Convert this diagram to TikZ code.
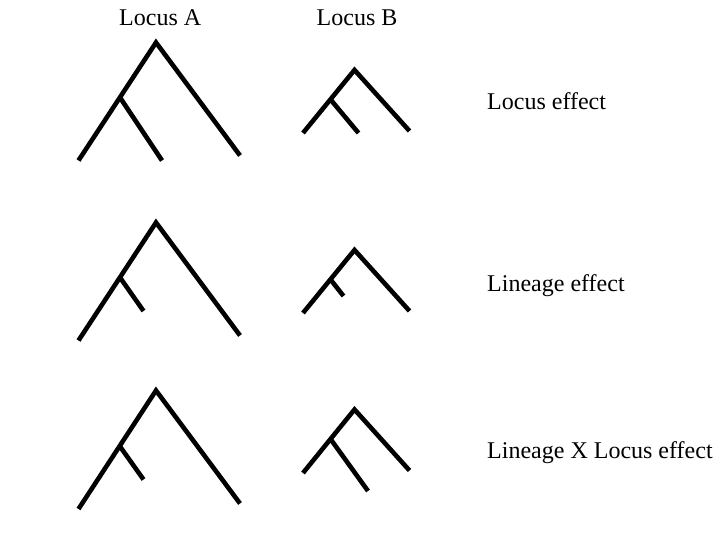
\documentclass[tikz,border=0pt]{standalone}
\usepackage{fontspec}
\setmainfont{Liberation Serif}
\begin{document}
\begin{tikzpicture}[x=1pt,y=-1pt,
  branch/.style={line width=4.6pt, black},
  lbl/.style={inner sep=0pt, anchor=base west, font=\fontsize{24}{28}\selectfont}]
\useasboundingbox (0,0) rectangle (720,540);
% labels
\node[lbl] (la) at (119,26) {Locus A};
\node[lbl] (lb) at (316.5,26) {Locus B};
\node[lbl] (e1) at (487,110) {Locus effect};
\node[lbl] (e2) at (487,291) {Lineage effect};
\node[lbl] (e3) at (487,458) {Lineage X Locus effect};
% row 1, locus A
\coordinate (a1r) at (156,42.5);
\coordinate (a1i) at (120,97.5);
\coordinate (a1l) at (78.5,160.5);
\coordinate (a1m) at (162,160.5);
\coordinate (a1x) at (240,155.5);
\draw[branch] (a1l) -- (a1r) -- (a1x);
\draw[branch] (a1i) -- (a1m);
% row 1, locus B
\coordinate (b1r) at (354.5,70);
\coordinate (b1i) at (330.5,99.5);
\coordinate (b1l) at (303,133);
\coordinate (b1m) at (358.5,133);
\coordinate (b1x) at (409.5,131);
\draw[branch] (b1l) -- (b1r) -- (b1x);
\draw[branch] (b1i) -- (b1m);
% row 2, locus A
\coordinate (a2r) at (156,222.5);
\coordinate (a2i) at (120,277.5);
\coordinate (a2l) at (78.5,340.5);
\coordinate (a2m) at (143.5,311);
\coordinate (a2x) at (240,335.5);
\draw[branch] (a2l) -- (a2r) -- (a2x);
\draw[branch] (a2i) -- (a2m);
% row 2, locus B
\coordinate (b2r) at (354.5,250);
\coordinate (b2i) at (330.5,279.5);
\coordinate (b2l) at (303,313);
\coordinate (b2m) at (343.5,296);
\coordinate (b2x) at (409.5,311);
\draw[branch] (b2l) -- (b2r) -- (b2x);
\draw[branch] (b2i) -- (b2m);
% row 3, locus A
\coordinate (a3r) at (156,390.5);
\coordinate (a3i) at (120,446.5);
\coordinate (a3l) at (78.5,509);
\coordinate (a3m) at (143.5,479.5);
\coordinate (a3x) at (240,503.5);
\draw[branch] (a3l) -- (a3r) -- (a3x);
\draw[branch] (a3i) -- (a3m);
% row 3, locus B
\coordinate (b3r) at (354.5,409.5);
\coordinate (b3i) at (330.5,439);
\coordinate (b3l) at (303,473);
\coordinate (b3m) at (368,491);
\coordinate (b3x) at (409.5,470.5);
\draw[branch] (b3l) -- (b3r) -- (b3x);
\draw[branch] (b3i) -- (b3m);
\end{tikzpicture}
\end{document}
